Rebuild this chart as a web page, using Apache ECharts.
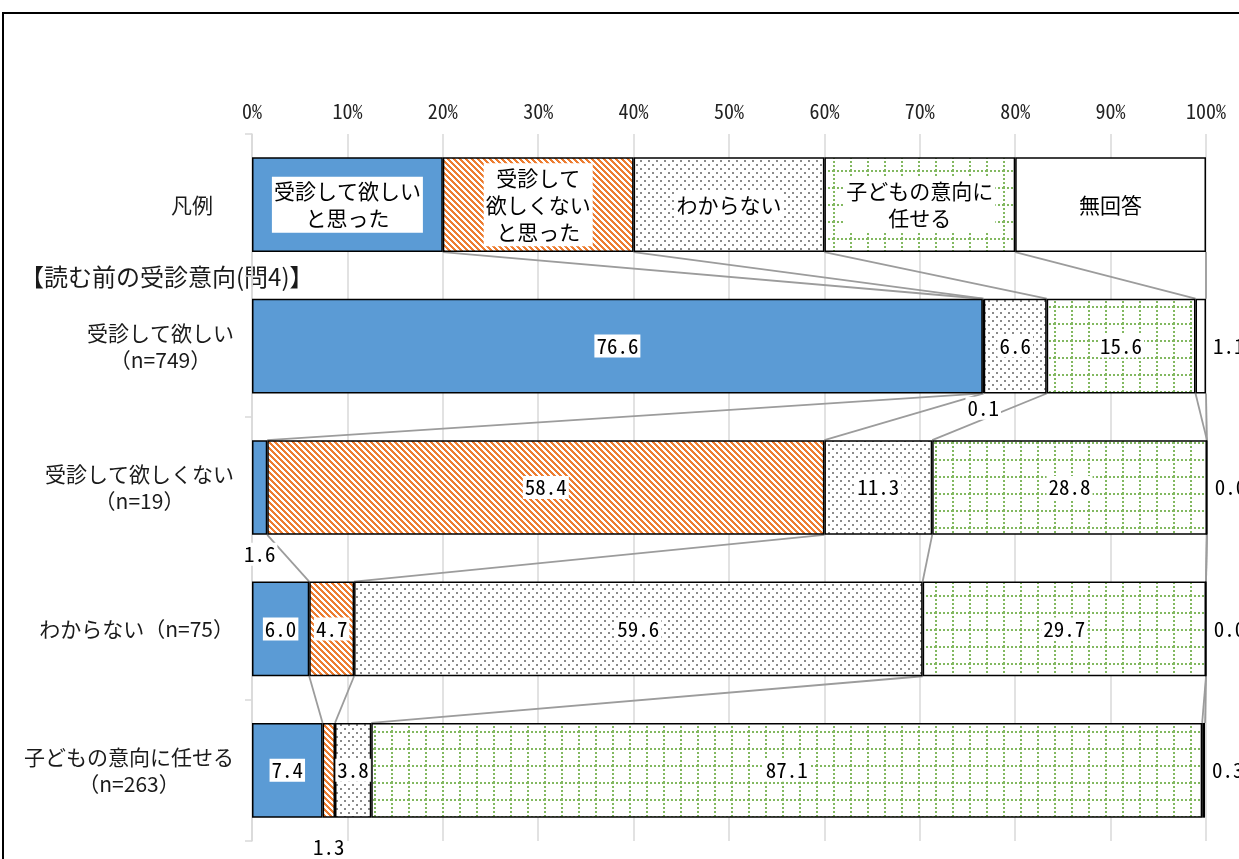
<!DOCTYPE html>
<html>
<head>
<meta charset="utf-8">
<script src="https://cdn.jsdelivr.net/npm/echarts@6/dist/echarts.min.js"></script>
<style>
  html, body { margin: 0; padding: 0; background: #fff; }
  #main { width: 1239px; height: 859px; }
</style>
</head>
<body>
<div id="main"></div>
<script>
// 行（上から）: 凡例 + 読む前の受診意向(問4)
const categories = [
  '凡例　',
  '受診して欲しい\n（n=749）',
  '受診して欲しくない\n（n=19）',
  'わからない（n=75）',
  '子どもの意向に任せる\n（n=263）'
]
const seriesNames = ['受診して欲しいと思った', '受診して欲しくないと思った', 'わからない', '子どもの意向に任せる', '無回答']
const legendTexts = ['受診して欲しい\nと思った', '受診して\n欲しくない\nと思った', 'わからない', '子どもの意向に\n任せる', '無回答']

// 各行の構成比(%)、先頭は凡例行
const wantCare = [20, 76.6, 1.6, 6.0, 7.4]
const notWantCare = [20, 0.1, 58.4, 4.7, 1.3]
const dontKnow = [20, 6.6, 11.3, 59.6, 3.8]
const leaveToChild = [20, 15.6, 28.8, 29.7, 87.1]
const noAnswer = [20, 1.1, 0.0, 0.0, 0.3]
const seriesValues = [wantCare, notWantCare, dontKnow, leaveToChild, noAnswer]

const jpFont = "'Noto Sans CJK JP', 'Noto Sans', sans-serif"
const numFont = "'Noto Sans Mono CJK JP', 'DejaVu Sans Mono', monospace"
const barRatio = 0.67

// 塗りパターン
function makeTile (w, h, draw) {
  const c = document.createElement('canvas')
  c.width = w
  c.height = h
  const ctx = c.getContext('2d')
  ctx.fillStyle = '#fff'
  ctx.fillRect(0, 0, w, h)
  draw(ctx)
  return { image: c, repeat: 'repeat' }
}
const stripe = makeTile(6, 6, ctx => {
  ctx.fillStyle = '#ED7D31'
  for (let y = 0; y < 6; y++) {
    for (let k = 0; k < 3; k++) ctx.fillRect((y + k) % 6, y, 1, 1)
  }
})
const dots = makeTile(8, 8, ctx => {
  ctx.fillStyle = '#8a8a8a'
  ctx.fillRect(0, 0, 2, 2)
  ctx.fillRect(4, 4, 2, 2)
})
const grid = makeTile(17, 17, ctx => {
  ctx.fillStyle = '#82b860'
  for (let i = 0; i < 17; i += 4) {
    ctx.fillRect(0, i, 2, 2)
    ctx.fillRect(i, 0, 2, 2)
  }
})
const fills = ['#5B9BD5', stripe, dots, grid, '#ffffff']

// 外側に出すラベル  key: 系列-行
const outsideLabels = {
  '1-1': { position: 'bottom', distance: 3 },
  '0-2': { position: 'bottom', distance: 8 },
  '1-4': { position: 'bottom', distance: 18 }
}

// 区切り位置（累積）
const cumulative = categories.map((c, row) => {
  let s = 0
  return seriesValues.map(vals => { s += vals[row]; return s })
})

function numLabel (extra) {
  return Object.assign({
    show: true,
    position: 'inside',
    formatter: p => p.value.toFixed(1),
    fontFamily: numFont,
    fontSize: 21,
    color: '#000',
    backgroundColor: '#fff',
    padding: [1, 2]
  }, extra)
}

function makeData (vals, si) {
  return vals.map((v, row) => {
    if (row === 0) {
      return {
        value: v,
        label: {
          show: true,
          position: 'inside',
          formatter: legendTexts[si].split('\n').map(t => '{c|' + t + '}').join('\n'),
          backgroundColor: '#fff',
          padding: [1, 2],
          rich: { c: { align: 'center', fontFamily: jpFont, fontSize: 21, lineHeight: 27, color: '#000' } }
        }
      }
    }
    let extra = outsideLabels[si + '-' + row]
    if (!extra && si === 4) extra = { position: 'right', distance: 5 }
    return { value: v, label: numLabel(extra || {}) }
  })
}

const chart = echarts.init(document.getElementById('main'))
chart.setOption({
  animation: false,
  grid: { left: 252, right: 33, top: 134, bottom: 18 },
  xAxis: {
    type: 'value',
    position: 'top',
    min: 0,
    max: 100,
    interval: 10,
    axisLine: { show: false },
    axisTick: { show: false },
    axisLabel: { formatter: '{value}%', fontFamily: numFont, fontSize: 20, color: '#222', margin: 13 },
    splitLine: { lineStyle: { color: '#d9d9d9', width: 1.5 } }
  },
  yAxis: {
    type: 'category',
    inverse: true,
    data: categories,
    axisLine: { show: true, lineStyle: { color: '#d9d9d9', width: 1.5 } },
    axisTick: { show: true, length: 7, lineStyle: { color: '#d9d9d9', width: 1.5 } },
    axisLabel: {
      align: 'right',
      margin: 18,
      formatter: v => v.split('\n').map(t => '{c|' + t + '}').join('\n'),
      rich: { c: { align: 'center', fontFamily: jpFont, fontSize: 21, lineHeight: 27, color: '#1a1a1a' } }
    }
  },
  graphic: [
    {
      type: 'rect',
      shape: { x: 3, y: 13, width: 1400, height: 1000 },
      style: { fill: 'none', stroke: '#000', lineWidth: 2 },
      silent: true
    },
    {
      type: 'text',
      x: 20,
      y: 277,
      style: { text: '【読む前の受診意向(問4)】', fontFamily: jpFont, fontSize: 24, fill: '#1a1a1a', verticalAlign: 'middle' }
    }
  ],
  series: seriesValues.map((vals, si) => ({
    name: seriesNames[si],
    type: 'bar',
    stack: 'total',
    z: 3,
    clip: false,
    barCategoryGap: ((1 - barRatio) * 100) + '%',
    itemStyle: { color: fills[si], borderColor: '#000', borderWidth: 1.5 },
    data: makeData(vals, si)
  })).concat([{
    type: 'custom',
    name: 'series-lines',
    z: 1,
    silent: true,
    encode: { x: 0, y: 1 },
    data: categories.slice(0, -1).map((c, i) => [0, i]),
    renderItem: (params, api) => {
      const gap = params.dataIndex
      const half = api.size([0, 1])[1] * barRatio / 2
      const children = cumulative[gap].map((v, j) => {
        const p1 = api.coord([v, gap])
        const p2 = api.coord([cumulative[gap + 1][j], gap + 1])
        return {
          type: 'line',
          shape: { x1: p1[0], y1: p1[1] + half, x2: p2[0], y2: p2[1] - half },
          style: { stroke: '#9c9c9c', lineWidth: 1.8 }
        }
      })
      return { type: 'group', children }
    }
  }])
})
</script>
</body>
</html>
